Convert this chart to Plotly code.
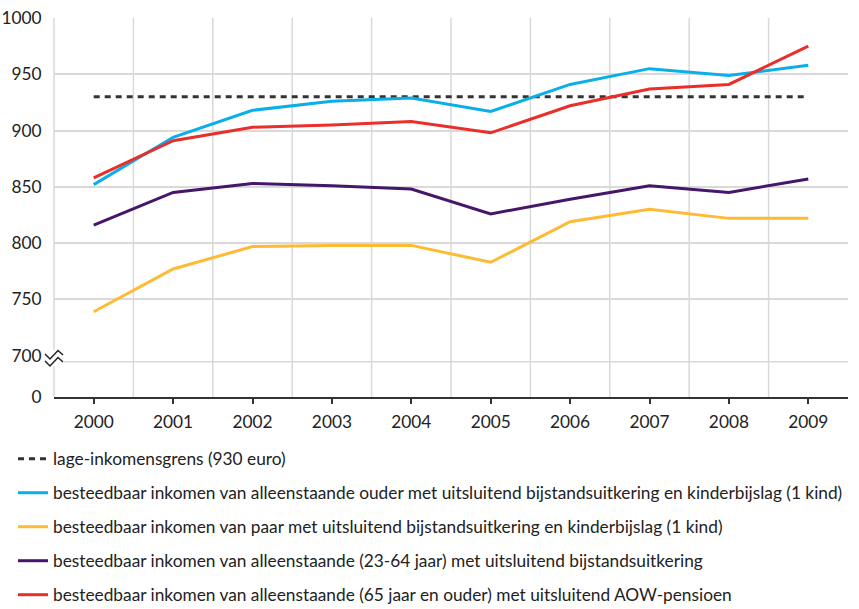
import plotly.graph_objects as go
from plotly.subplots import make_subplots

years = [2000, 2001, 2002, 2003, 2004, 2005, 2006, 2007, 2008, 2009]
grens = [930] * 10
alleenstaande_ouder = [852, 894, 918, 926, 929, 917, 941, 955, 949, 958]
paar = [739, 777, 797, 798, 798, 783, 819, 830, 822, 822]
alleenstaande_23_64 = [816, 845, 853, 851, 848, 826, 839, 851, 845, 857]
alleenstaande_65 = [858, 891, 903, 905, 908, 898, 922, 937, 941, 975]

names = [
    "lage-inkomensgrens (930 euro)",
    "besteedbaar inkomen van alleenstaande ouder met uitsluitend bijstandsuitkering en kinderbijslag (1 kind)",
    "besteedbaar inkomen van paar met uitsluitend bijstandsuitkering en kinderbijslag (1 kind)",
    "besteedbaar inkomen van alleenstaande (23-64 jaar) met uitsluitend bijstandsuitkering",
    "besteedbaar inkomen van alleenstaande (65 jaar en ouder) met uitsluitend AOW-pensioen",
]
series = [grens, alleenstaande_ouder, paar, alleenstaande_23_64, alleenstaande_65]
colors = ["#333333", "#0AAFEA", "#FFBA33", "#45166A", "#EA2E2A"]
dashes = ["6px,5px", "solid", "solid", "solid", "solid"]

y_ticks_top = [700, 750, 800, 850, 900, 950, 1000]
y_ticks_low = [0]

W, H = 859, 609
L, R, T, B = 54, 11, 18, 212
plot_h = H - T - B
bottom_px = H - B


def px_to_paper(px, py):
    return (px - L) / (W - L - R), (bottom_px - py) / plot_h


top_lo = (bottom_px - 355.7) / plot_h
low_hi = (bottom_px - 361.7) / plot_h

fig = make_subplots(rows=2, cols=1, shared_xaxes=True, vertical_spacing=0.0)

font_fam = "Lato, 'Open Sans', sans-serif"
txt_col = "#222222"
grid_col = "#D9D9D9"
FS = 17.3

for i, (nm, s, c, d) in enumerate(zip(names, series, colors, dashes)):
    fig.add_trace(
        go.Scatter(
            x=years, y=s, name=nm, mode="lines",
            line=dict(color=c, width=3, dash=d),
            legendgroup=f"g{i}",
        ),
        row=1, col=1,
    )

# invisible helper trace so the lower (broken-axis) panel is drawn
fig.add_trace(
    go.Scatter(x=years, y=grens, mode="lines", line=dict(width=0, color="rgba(0,0,0,0)"),
               showlegend=False, hoverinfo="skip"),
    row=2, col=1,
)

shapes = []
for yr in years[:-1]:
    shapes.append(dict(type="line", xref="x", yref="paper", x0=yr + 0.5, x1=yr + 0.5,
                       y0=0, y1=1, line=dict(color=grid_col, width=1.5), layer="below"))
shapes.append(dict(type="line", xref="paper", yref="paper", x0=0, x1=0, y0=0, y1=1,
                   line=dict(color=grid_col, width=1.5), layer="below"))
shapes.append(dict(type="line", xref="paper", yref="paper", x0=0, x1=1, y0=low_hi, y1=low_hi,
                   line=dict(color=grid_col, width=1.5), layer="below"))


def zig(points):
    p = [px_to_paper(x, y) for x, y in points]
    return "M " + " L ".join(f"{a:.5f},{b:.5f}" for a, b in p)


bx0, by0 = px_to_paper(44, 366)
bx1, by1 = px_to_paper(64, 350)
shapes.append(dict(type="rect", xref="paper", yref="paper", x0=bx0, x1=bx1, y0=by0, y1=by1,
                   fillcolor="white", line=dict(width=0), layer="above"))
shapes.append(dict(type="path", xref="paper", yref="paper",
                   path=zig([(45, 354), (50, 359), (58, 350.5), (63, 355)]),
                   line=dict(color="#222222", width=1.5), layer="above"))
shapes.append(dict(type="path", xref="paper", yref="paper",
                   path=zig([(45, 361), (50, 366), (58, 357.5), (63, 362)]),
                   line=dict(color="#222222", width=1.5), layer="above"))

lx, ly = px_to_paper(13, 441)

fig.update_layout(
    width=W, height=H,
    margin=dict(l=L, r=R, t=T, b=B, autoexpand=False),
    paper_bgcolor="white",
    plot_bgcolor="rgba(0,0,0,0)",
    font=dict(family=font_fam, size=FS, color=txt_col),
    shapes=shapes,
    showlegend=True,
    legend=dict(
        x=lx, y=ly, xanchor="left", yanchor="top",
        orientation="v", traceorder="grouped", tracegroupgap=8.5,
        font=dict(size=FS, color=txt_col, family=font_fam),
        bgcolor="rgba(0,0,0,0)", itemwidth=30,
    ),
    yaxis=dict(domain=[top_lo, 1], range=[700, 1000], tickvals=y_ticks_top,
               showgrid=True, gridcolor=grid_col, gridwidth=1.5, zeroline=False,
               showline=False, ticks="outside", ticklen=8, tickcolor="rgba(0,0,0,0)",
               automargin=False, tickfont=dict(size=FS, color=txt_col)),
    yaxis2=dict(domain=[0, low_hi], range=[0, 10], tickvals=y_ticks_low,
                showgrid=False, zeroline=False, showline=False,
                ticks="outside", ticklen=8, tickcolor="rgba(0,0,0,0)",
                automargin=False, tickfont=dict(size=FS, color=txt_col)),
    xaxis=dict(range=[1999.5, 2009.5], showgrid=False, showticklabels=False,
               zeroline=False, showline=False, ticks=""),
    xaxis2=dict(range=[1999.5, 2009.5], tickvals=years, showgrid=False, zeroline=False,
                showline=True, linecolor="#333333", linewidth=1.5,
                ticks="outside", ticklen=5, tickwidth=1.5, tickcolor="#333333",
                ticklabelstandoff=3, automargin=False,
                tickfont=dict(size=FS, color=txt_col)),
)

fig.write_html(
    "out.html",
    config={"displayModeBar": False},
    post_script="document.body.style.margin='0';document.body.style.overflow='hidden';",
)
